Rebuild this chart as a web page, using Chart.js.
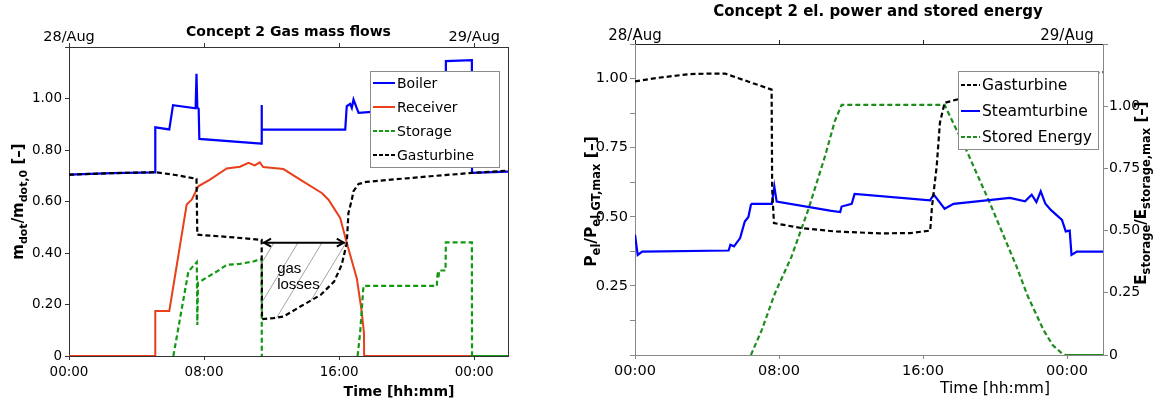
<!DOCTYPE html>
<html><head><meta charset="utf-8">
<script src="https://cdn.jsdelivr.net/npm/chart.js@4.4.1/dist/chart.umd.min.js"></script>
<style>
html,body{margin:0;padding:0;background:#fff;}
#wrap{position:relative;width:1172px;height:403px;overflow:hidden;background:#fff;}
#c1{position:absolute;left:0;top:0;width:560px;height:403px;}
#c2{position:absolute;left:560px;top:0;width:612px;height:403px;}
</style></head><body>
<div id="wrap"><canvas id="c1" width="560" height="403"></canvas><canvas id="c2" width="612" height="403"></canvas></div>
<script>
const FONT = "'DejaVu Sans', Verdana, sans-serif";

// ---- shared time axis (hours from 28/Aug 00:00) ----
const tickHours = [0, 8, 16, 24];
const timeTickLabels = ['00:00', '08:00', '16:00', '00:00'];
const dateTickLabels = ['28/Aug', '', '', '29/Aug'];

// ---- Left panel: Concept 2 Gas mass flows ----
const boilerT = [0, 2.5, 5.1, 5.11, 5.94, 6.16, 7.5, 7.55, 7.6, 7.68, 7.72, 11.38, 11.4, 11.43, 16.36, 16.45, 16.65, 16.75, 16.85, 17.15, 17.74, 19.0, 20.5, 22.3, 22.32, 23.86, 23.87, 26];
const boilerV = [0.704, 0.710, 0.713, 0.888, 0.880, 0.974, 0.962, 1.096, 0.965, 0.960, 0.843, 0.825, 0.975, 0.879, 0.879, 0.970, 0.979, 0.963, 0.996, 0.944, 0.947, 0.955, 0.965, 0.975, 1.145, 1.149, 0.711, 0.716];

const receiverT = [0, 5.1, 5.11, 5.94, 6.97, 7.27, 7.66, 8.35, 9.34, 10.13, 10.63, 11.0, 11.3, 11.5, 12.7, 13.69, 14.97, 15.37, 16.06, 16.45, 17.05, 17.33, 17.47, 17.48, 23.86];
const receiverV = [0, 0, 0.175, 0.175, 0.588, 0.607, 0.659, 0.685, 0.728, 0.735, 0.750, 0.740, 0.752, 0.734, 0.726, 0.685, 0.633, 0.607, 0.536, 0.440, 0.300, 0.175, 0.09, 0, 0];

const storageT = [6.18, 7.07, 7.57, 7.6, 7.64, 7.76, 8.75, 9.34, 10.13, 10.92, 11.32, 11.41, 11.42, 14, 17.09, 17.24, 17.44, 21.79, 21.8, 21.86, 21.88, 21.92, 22.3, 22.32, 23.86, 23.87, 26];
const storageV = [0, 0.328, 0.365, 0.12, 0.285, 0.289, 0.328, 0.354, 0.358, 0.367, 0.376, 0.376, 0, null, 0, 0.088, 0.272, 0.272, 0.30, 0.33, 0.30, 0.332, 0.332, 0.441, 0.441, 0, 0];
const storageSolidFrom = 23.87;

const gasT = [0, 2.5, 5.1, 6.3, 7.55, 7.6, 9.5, 11.41, 11.43, 12.1, 12.7, 13.7, 14.9, 15.7, 16.15, 16.45, 16.55, 16.75, 16.85, 17.15, 17.6, 18.4, 21.4, 23.86, 26];
const gasV = [0.704, 0.710, 0.714, 0.703, 0.688, 0.471, 0.462, 0.451, 0.143, 0.147, 0.153, 0.192, 0.237, 0.289, 0.354, 0.438, 0.555, 0.607, 0.640, 0.668, 0.676, 0.681, 0.698, 0.711, 0.720];

const leftYLabels = ['0', '0.20', '0.40', '0.60', '0.80', '1.00', ''];
const gasLossFrom = 11.43, gasLossTo = 16.45, gasLossLevel = 0.44;

// ---- Right panel: Concept 2 el. power and stored energy ----
const gtT = [0, 1.2, 3.0, 4.1, 5.0, 7.59, 7.62, 7.72, 9.26, 11.1, 13.6, 15.3, 16.4, 16.5, 16.76, 16.94, 17.2, 17.87, 19.0, 21.0, 23.0, 24.5, 25.8, 26];
const gtV = [0.99, 1.002, 1.016, 1.018, 1.018, 0.96, 0.60, 0.477, 0.459, 0.447, 0.44, 0.441, 0.45, 0.537, 0.682, 0.84, 0.912, 0.924, 0.94, 0.97, 0.995, 1.01, 1.022, 1.023];

const stT = [0, 0.15, 0.4, 5.2, 5.3, 5.5, 5.84, 6.1, 6.3, 6.44, 6.5, 7.6, 7.74, 7.87, 10.83, 11.4, 11.48, 12.04, 12.2, 16.39, 16.6, 17.2, 17.7, 20.83, 21.67, 22.04, 22.3, 22.54, 22.8, 23.1, 23.72, 23.93, 24.15, 24.25, 24.55, 26];
const stV = [0.435, 0.362, 0.374, 0.378, 0.399, 0.393, 0.423, 0.483, 0.499, 0.543, 0.547, 0.547, 0.61, 0.555, 0.522, 0.517, 0.537, 0.547, 0.583, 0.559, 0.58, 0.529, 0.547, 0.568, 0.556, 0.58, 0.553, 0.592, 0.547, 0.525, 0.489, 0.447, 0.45, 0.362, 0.374, 0.374];

const seT = [6.44, 7.04, 7.78, 8.7, 9.63, 10.56, 11.1, 11.48, 17.2, 18.43, 19.72, 21.2, 21.8, 22.7, 23.2, 23.7, 23.93, 26];
const seV = [0, 0.10, 0.249, 0.396, 0.585, 0.80, 0.94, 1.005, 1.005, 0.82, 0.61, 0.355, 0.24, 0.10, 0.04, 0.008, 0, 0];
const seSolidFrom = 23.93;

const pLabels = ['', '', '0.25', '', '0.50', '', '0.75', '', '1.00', ''];
const eLabels = ['0', '0.25', '0.50', '0.75', '1.00', ''];

// ---- helpers ----
const pts = (t, v) => t.map((x, i) => ({x: x, y: v[i]}));
const tickIdx = v => tickHours.indexOf(Math.round(v * 1000) / 1000);

function richText(ctx, parts, x, y, rotate, main, sub, shift, weight) {
  ctx.save();
  ctx.translate(x, y);
  if (rotate) ctx.rotate(-Math.PI / 2);
  let w = 0;
  parts.forEach(p => { ctx.font = weight + ' ' + (p.s ? sub : main) + 'px ' + FONT; w += ctx.measureText(p.t).width; });
  let cx = -w / 2;
  ctx.fillStyle = '#000';
  ctx.textBaseline = 'alphabetic';
  parts.forEach(p => {
    ctx.font = weight + ' ' + (p.s ? sub : main) + 'px ' + FONT;
    ctx.fillText(p.t, cx, p.s ? shift : 0);
    cx += ctx.measureText(p.t).width;
  });
  ctx.restore();
}

function drawLegend(ctx, b, items) {
  ctx.save();
  ctx.fillStyle = '#fff';
  ctx.fillRect(b.x, b.y, b.w, b.h);
  ctx.strokeStyle = '#8c8c8c';
  ctx.lineWidth = 1;
  ctx.strokeRect(b.x + 0.5, b.y + 0.5, b.w, b.h);
  items.forEach((it, i) => {
    const y = b.y + b.first + i * b.step;
    ctx.beginPath();
    ctx.setLineDash(it.dash || []);
    ctx.strokeStyle = it.color;
    ctx.lineWidth = 2;
    ctx.moveTo(b.x + 3, y);
    ctx.lineTo(b.x + 3 + b.sample, y);
    ctx.stroke();
    ctx.setLineDash([]);
    ctx.fillStyle = '#000';
    ctx.font = b.font;
    ctx.textBaseline = 'middle';
    ctx.fillText(it.label, b.x + 5 + b.sample, y + 1);
  });
  ctx.restore();
}

function timeAxis(pos, labels, size, fit, col, tcol, pad) {
  return {
    type: 'linear', position: pos, min: 0, max: 26,
    ticks: {stepSize: 8, includeBounds: false, autoSkip: false, maxRotation: 0, padding: pad,
      color: '#000', font: {family: FONT, size: size},
      callback: v => { const i = tickIdx(v); return i < 0 ? '' : labels[i]; }},
    grid: {drawOnChartArea: false, drawTicks: true, tickLength: 4, tickColor: tcol},
    border: {display: true, color: col, width: 1},
    afterFit: s => { s.height = fit; }
  };
}

const baseOpts = {
  responsive: false, animation: false, events: [],
  layout: {padding: 0},
  elements: {point: {radius: 0}, line: {tension: 0}},
  plugins: {legend: {display: false}, tooltip: {enabled: false}, title: {display: false}}
};

// ---------------- LEFT CHART ----------------
const leftPlugin = {
  id: 'leftDeco',
  afterDatasetsDraw(chart) {
    const ctx = chart.ctx, xs = chart.scales.x, ys = chart.scales.y;
    // hatched gas-loss region
    const poly = [];
    poly.push([xs.getPixelForValue(gasLossFrom), ys.getPixelForValue(gasLossLevel)]);
    poly.push([xs.getPixelForValue(gasLossTo), ys.getPixelForValue(gasLossLevel)]);
    for (let i = gasT.length - 1; i >= 0; i--) {
      if (gasT[i] <= gasLossTo && gasT[i] >= gasLossFrom)
        poly.push([xs.getPixelForValue(gasT[i]), ys.getPixelForValue(gasV[i])]);
    }
    ctx.save();
    ctx.beginPath();
    poly.forEach((p, i) => i ? ctx.lineTo(p[0], p[1]) : ctx.moveTo(p[0], p[1]));
    ctx.closePath();
    ctx.clip();
    ctx.strokeStyle = '#8a8a8a';
    ctx.lineWidth = 0.8;
    const yT = ys.getPixelForValue(gasLossLevel), yB = ys.getPixelForValue(0);
    const k = 0.605;
    for (let x0 = xs.getPixelForValue(gasLossFrom) - 300; x0 < xs.getPixelForValue(gasLossTo) + 50; x0 += 24) {
      ctx.beginPath();
      ctx.moveTo(x0, yT);
      ctx.lineTo(x0 - (yB - yT) * k, yB);
      ctx.stroke();
    }
    ctx.restore();
    // double arrow
    const ax1 = xs.getPixelForValue(gasLossFrom) + 1, ax2 = xs.getPixelForValue(gasLossTo) - 2, ay = yT;
    ctx.save();
    ctx.strokeStyle = '#000';
    ctx.lineWidth = 2;
    ctx.beginPath(); ctx.moveTo(ax1, ay); ctx.lineTo(ax2, ay); ctx.stroke();
    ctx.beginPath(); ctx.moveTo(ax1 + 8, ay - 4); ctx.lineTo(ax1 + 1, ay); ctx.lineTo(ax1 + 8, ay + 4); ctx.stroke();
    ctx.beginPath(); ctx.moveTo(ax2 - 8, ay - 4); ctx.lineTo(ax2 - 1, ay); ctx.lineTo(ax2 - 8, ay + 4); ctx.stroke();
    ctx.fillStyle = '#000';
    ctx.font = "15px 'Liberation Sans', Arial, sans-serif";
    ctx.textBaseline = 'middle';
    ctx.fillText('gas', xs.getPixelForValue(12.33), ys.getPixelForValue(0.339));
    ctx.fillText('losses', xs.getPixelForValue(12.33), ys.getPixelForValue(0.276));
    ctx.restore();
  },
  afterDraw(chart) {
    const ctx = chart.ctx, a = chart.chartArea;
    drawLegend(ctx, {x: a.left + 301, y: a.top + 24, w: 129, h: 96, first: 12, step: 24, sample: 22,
      font: '14px ' + FONT}, [
      {label: 'Boiler', color: '#0000ff'},
      {label: 'Receiver', color: '#e8401a'},
      {label: 'Storage', color: '#129912', dash: [4, 2]},
      {label: 'Gasturbine', color: '#000', dash: [4, 2]}
    ]);
    ctx.save();
    ctx.fillStyle = '#000';
    ctx.font = 'bold 14px ' + FONT;
    ctx.textAlign = 'center';
    ctx.textBaseline = 'middle';
    ctx.fillText('Concept 2 Gas mass flows', (a.left + a.right) / 2, 32);
    ctx.fillText('Time [hh:mm]', 399, 392);
    ctx.restore();
    richText(ctx, [{t: 'm'}, {t: 'dot', s: 1}, {t: '/m'}, {t: 'dot,0', s: 1}, {t: ' [–]'}],
      23, (a.top + a.bottom) / 2, true, 15, 11, 4, 'bold');
  }
};

new Chart(document.getElementById('c1'), {
  type: 'line',
  data: {datasets: [
    {label: 'Gasturbine', data: pts(gasT, gasV), borderColor: '#000', borderWidth: 2.2, borderDash: [5, 3], order: 1},
    {label: 'Storage', data: pts(storageT, storageV), borderColor: '#129912', borderWidth: 2.2, borderDash: [5, 3], order: 2,
      segment: {borderDash: c => c.p0.parsed.x >= storageSolidFrom ? [] : [5, 3]}},
    {label: 'Receiver', data: pts(receiverT, receiverV), borderColor: '#e8401a', borderWidth: 2, order: 3},
    {label: 'Boiler', data: pts(boilerT, boilerV), borderColor: '#0000ff', borderWidth: 2.2, order: 4}
  ]},
  options: Object.assign({}, baseOpts, {
    scales: {
      x: timeAxis('bottom', timeTickLabels, 13.5, 47, '#333', '#333', 4),
      xTop: timeAxis('top', dateTickLabels, 14.5, 47, '#333', '#333', -3),
      y: {type: 'linear', position: 'left', min: 0, max: 1.2,
        ticks: {stepSize: 0.2, autoSkip: false, padding: 3, color: '#000', font: {family: FONT, size: 13.5},
          callback: (v, i) => leftYLabels[i] || ''},
        grid: {drawOnChartArea: false, drawTicks: true, tickLength: 4, tickColor: '#333'},
        border: {display: true, color: '#333'},
        afterFit: s => { s.width = 69; }},
      yR: {type: 'linear', position: 'right', min: 0, max: 1.2,
        ticks: {display: false}, grid: {drawOnChartArea: false, drawTicks: false},
        border: {display: true, color: '#333'},
        afterFit: s => { s.width = 52; }}
    }
  }),
  plugins: [leftPlugin]
});

// ---------------- RIGHT CHART ----------------
const rightPlugin = {
  id: 'rightDeco',
  afterDraw(chart) {
    const ctx = chart.ctx, a = chart.chartArea;
    drawLegend(ctx, {x: a.left + 323, y: a.top + 27, w: 140, h: 78, first: 14, step: 26, sample: 19,
      font: '15.5px ' + FONT}, [
      {label: 'Gasturbine', color: '#000', dash: [4, 2]},
      {label: 'Steamturbine', color: '#0000ff'},
      {label: 'Stored Energy', color: '#1e8c1e', dash: [4, 2]}
    ]);
    ctx.save();
    ctx.fillStyle = '#000';
    ctx.textAlign = 'center';
    ctx.textBaseline = 'middle';
    ctx.font = 'bold 15px ' + FONT;
    ctx.fillText('Concept 2 el. power and stored energy', 318, 12);
    ctx.font = '15.5px ' + FONT;
    ctx.fillText('Time [hh:mm]', 435, 389);
    ctx.restore();
    richText(ctx, [{t: 'P'}, {t: 'el', s: 1}, {t: '/P'}, {t: 'el,GT,max', s: 1}, {t: ' [–]'}],
      36, (a.top + a.bottom) / 2 + 2, true, 15.5, 11.5, 4, 'bold');
    richText(ctx, [{t: 'E'}, {t: 'storage', s: 1}, {t: '/E'}, {t: 'storage,max', s: 1}, {t: ' [–]'}],
      586, 193, true, 15, 11.5, 4, 'bold');
  }
};

new Chart(document.getElementById('c2'), {
  type: 'line',
  data: {datasets: [
    {label: 'Gasturbine', data: pts(gtT, gtV), borderColor: '#000', borderWidth: 2.2, borderDash: [5, 3], yAxisID: 'y', order: 1},
    {label: 'Steamturbine', data: pts(stT, stV), borderColor: '#0000ff', borderWidth: 2.2, yAxisID: 'y', order: 2},
    {label: 'Stored Energy', data: pts(seT, seV), borderColor: '#1e8c1e', borderWidth: 2.2, borderDash: [5, 3], yAxisID: 'y2', order: 3,
      segment: {borderDash: c => c.p0.parsed.x >= seSolidFrom ? [] : [5, 3]}}
  ]},
  options: Object.assign({}, baseOpts, {
    scales: {
      x: timeAxis('bottom', timeTickLabels, 14.5, 48, '#888', '#888', 4),
      xTop: timeAxis('top', dateTickLabels, 15, 44, '#222', '#222', -5),
      y: {type: 'linear', position: 'left', min: 0, max: 1.125,
        ticks: {stepSize: 0.125, autoSkip: false, padding: 2, color: '#000', font: {family: FONT, size: 14.5},
          callback: (v, i) => pLabels[i] || ''},
        grid: {drawOnChartArea: false, drawTicks: true, tickLength: 5, tickColor: '#888'},
        border: {display: true, color: '#888'},
        afterFit: s => { s.width = 75; }},
      y2: {type: 'linear', position: 'right', min: 0, max: 1.25,
        ticks: {stepSize: 0.25, autoSkip: false, padding: 1, color: '#000', font: {family: FONT, size: 14},
          callback: (v, i) => eLabels[i] || ''},
        grid: {drawOnChartArea: false, drawTicks: true, tickLength: 5, tickColor: '#888'},
        border: {display: true, color: '#888'},
        afterFit: s => { s.width = 69; }}
    }
  }),
  plugins: [rightPlugin]
});
</script>
</body></html>
